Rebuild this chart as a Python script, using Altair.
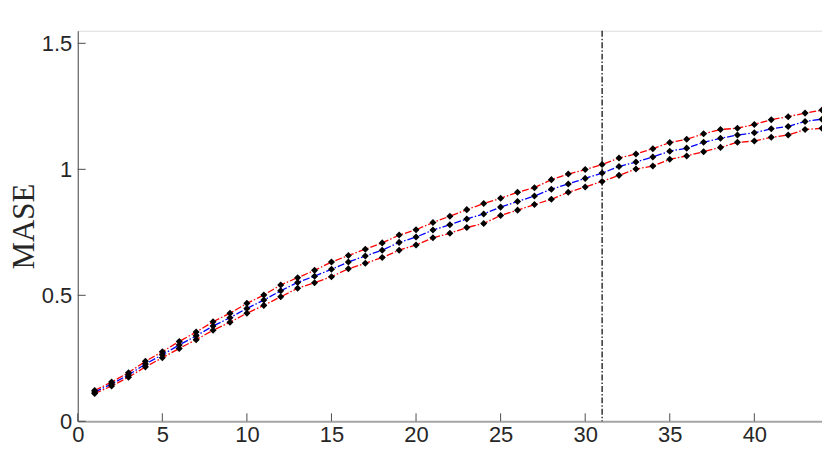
import altair as alt
import pandas as pd

steps = list(range(1, 45))

mase_mid = [0.116, 0.148, 0.184, 0.227, 0.264, 0.303, 0.339, 0.378, 0.411, 0.448,
            0.481, 0.518, 0.551, 0.576, 0.603, 0.632, 0.656, 0.679, 0.710, 0.731,
            0.759, 0.780, 0.803, 0.823, 0.850, 0.872, 0.894, 0.921, 0.942, 0.964,
            0.985, 1.011, 1.029, 1.049, 1.072, 1.084, 1.107, 1.123, 1.136, 1.145,
            1.161, 1.170, 1.190, 1.199]
mase_upper = [0.122, 0.156, 0.193, 0.238, 0.276, 0.317, 0.354, 0.395, 0.429, 0.468,
              0.501, 0.541, 0.570, 0.599, 0.632, 0.658, 0.683, 0.708, 0.739, 0.760,
              0.789, 0.814, 0.840, 0.864, 0.885, 0.909, 0.927, 0.959, 0.981, 0.999,
              1.019, 1.045, 1.061, 1.082, 1.106, 1.119, 1.141, 1.158, 1.163, 1.178,
              1.197, 1.209, 1.223, 1.235]
mase_lower = [0.110, 0.140, 0.175, 0.216, 0.252, 0.289, 0.324, 0.361, 0.393, 0.429,
              0.460, 0.494, 0.528, 0.550, 0.574, 0.605, 0.627, 0.650, 0.679, 0.700,
              0.728, 0.746, 0.769, 0.785, 0.817, 0.838, 0.860, 0.881, 0.909, 0.930,
              0.952, 0.976, 1.001, 1.013, 1.040, 1.053, 1.070, 1.087, 1.107, 1.112,
              1.127, 1.136, 1.158, 1.163]

x_ticks = [0, 5, 10, 15, 20, 25, 30, 35, 40]
y_ticks = [0, 0.5, 1, 1.5]
split_step = [31]

rows = []
for name, vals in [("upper", mase_upper), ("lower", mase_lower), ("mid", mase_mid)]:
    for s, v in zip(steps, vals):
        rows.append({"step": s, "mase": v, "series": name})
df = pd.DataFrame(rows)

W, H = 747, 392
FONT = "Liberation Sans"

xscale = alt.Scale(domain=[0, 44], nice=False, zero=False)
yscale = alt.Scale(domain=[0, 1.55], nice=False)

base = alt.Chart(df)

lines = base.mark_line(strokeDash=[7, 2, 1.5, 2], strokeWidth=1.3).encode(
    x=alt.X("step:Q", scale=xscale,
            axis=alt.Axis(values=x_ticks, title=None, grid=False, tickSize=0,
                          labelFlush=False,
                          labelFont=FONT, labelFontSize=22, labelColor="#262626",
                          labelPadding=3, domainColor="#a6a6a6", domainWidth=2)),
    y=alt.Y("mase:Q", scale=yscale,
            axis=alt.Axis(values=y_ticks, format="~g", title="MASE", grid=False,
                          tickSize=0, labelFlush=False, labelFont=FONT, labelFontSize=22,
                          labelColor="#262626", labelPadding=6,
                          domainColor="#4d4d4d", domainWidth=1,
                          titleFont="Liberation Serif", titleFontSize=31,
                          titleFontWeight="normal", titleColor="#262626",
                          titleX=-44, titleY=H / 2, titleAngle=270,
                          titleAlign="center", titleBaseline="alphabetic")),
    color=alt.Color("series:N",
                    scale=alt.Scale(domain=["upper", "lower", "mid"],
                                    range=["#ff0000", "#ff0000", "#0000ff"]),
                    legend=None),
    detail="series:N",
)

points = base.mark_point(shape="diamond", filled=True, color="black",
                         size=50, opacity=1).encode(
    x=alt.X("step:Q", scale=xscale),
    y=alt.Y("mase:Q", scale=yscale),
)

vline = alt.Chart(pd.DataFrame({"step": split_step})).mark_rule(
    color="black", strokeDash=[6, 2, 1.5, 2], strokeWidth=1.2
).encode(
    x=alt.X("step:Q", scale=xscale),
    y=alt.value(0), y2=alt.value(H),
)

xt = alt.Chart(pd.DataFrame({"t": x_ticks})).mark_rule(color="#4d4d4d", strokeWidth=1).encode(
    x=alt.X("t:Q", scale=xscale), y=alt.value(H), y2=alt.value(H - 8))
yt = alt.Chart(pd.DataFrame({"t": y_ticks})).mark_rule(color="#4d4d4d", strokeWidth=1).encode(
    y=alt.Y("t:Q", scale=yscale), x=alt.value(0), x2=alt.value(8))

chart = alt.layer(lines, vline, points, xt, yt).properties(
    width=W, height=H,
    autosize=alt.AutoSizeParams(type="none"),
    padding={"left": 70, "top": 22, "right": 0, "bottom": 26},
).configure_view(stroke=None).configure(background="white")

chart.save("out.html", embed_options={"renderer": "svg", "actions": False})
